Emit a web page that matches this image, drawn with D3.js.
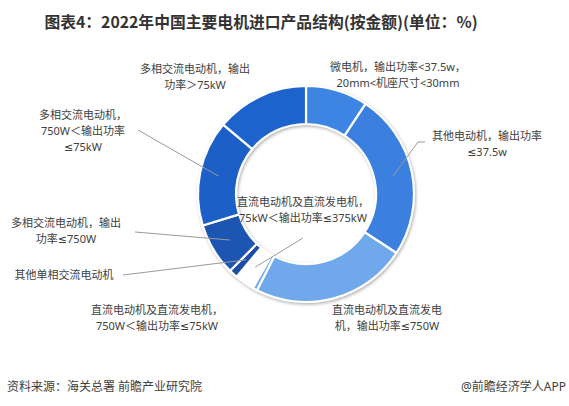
<!DOCTYPE html>
<html><head><meta charset="utf-8">
<script src="https://cdn.jsdelivr.net/npm/d3@7/dist/d3.min.js"></script>
<style>
body{margin:0;background:#fff;}
svg{display:block;font-family:"Noto Sans","DejaVu Sans","Noto Sans CJK SC",sans-serif;}
</style></head><body>
<svg id="c" width="569" height="406"></svg>
<script>
// ---- data ----
const categories = [
  "微电机，输出功率<37.5w，20mm<机座尺寸<30mm",
  "其他电动机，输出功率≤37.5w",
  "直流电动机及直流发电机，输出功率≤750W",
  "直流电动机及直流发电机，750W＜输出功率≤75kW",
  "直流电动机及直流发电机，75kW＜输出功率≤375kW",
  "其他单相交流电动机",
  "多相交流电动机，输出功率≤750W",
  "多相交流电动机，750W＜输出功率≤75kW",
  "多相交流电动机，输出功率＞75kW"
];
const values = [9.3, 24.9, 23.3, 0.7, 2.9, 1.3, 7.9, 15.8, 13.9];
const labelLines = [
  ["微电机，输出功率<37.5w，", "20mm<机座尺寸<30mm"],
  ["其他电动机，输出功率", "≤37.5w"],
  ["直流电动机及直流发电", "机，输出功率≤750W"],
  ["直流电动机及直流发电机，", "750W＜输出功率≤75kW"],
  ["直流电动机及直流发电机，", "75kW＜输出功率≤375kW"],
  ["其他单相交流电动机"],
  ["多相交流电动机，输出", "功率≤750W"],
  ["多相交流电动机，", "750W＜输出功率", "≤75kW"],
  ["多相交流电动机，输出", "功率＞75kW"]
];
const title = "图表4：2022年中国主要电机进口产品结构(按金额)(单位：%)";
const source = "资料来源：海关总署 前瞻产业研究院";
const brand = "@前瞻经济学人APP";

// ---- styles / layout ----
const colors = ["#3d84e3","#3a80de","#6fa8ec","#78aeef","#ffffff","#1a4ea8","#1c55b2","#1e5ec6","#1f63cc"];
const labelPos = [
  {x:398,y:71},{x:487,y:140},{x:387,y:314},{x:157,y:314},{x:303,y:206},
  {x:64,y:279},{x:66,y:227},{x:83,y:119},{x:195,y:73}
];
const leaderStart = [null,[[425,142],[418,142]],null,null,[[303,238]],[[123,275]],[[135,232]],[[138,130]],null];

const svg = d3.select("#c");
const cx = 306, cy = 194, R = 108, r = 70;

const defs = svg.append("defs");
const f = defs.append("filter").attr("id","sh").attr("x","-20%").attr("y","-20%").attr("width","140%").attr("height","140%");
f.append("feDropShadow").attr("dx",1).attr("dy",1.5).attr("stdDeviation",1.6)
  .attr("flood-color","#808080").attr("flood-opacity",0.6);

svg.append("text").attr("x",261).attr("y",28).attr("text-anchor","middle")
  .attr("font-family","Noto Sans CJK SC")
  .attr("font-size",15.8).attr("font-weight","bold").attr("fill","#333").text(title);

const pie = d3.pie().sort(null).value(d=>d)(values);
const arc = d3.arc().innerRadius(r).outerRadius(R);
const g = svg.append("g").attr("transform",`translate(${cx},${cy})`);
g.append("g").attr("filter","url(#sh)").selectAll("path").data(pie).join("path")
  .attr("d",arc).attr("fill",(d,i)=>colors[i]).attr("stroke","#fff").attr("stroke-width",2.2)
  .attr("stroke-linejoin","round");

// leaders
pie.forEach((d,i)=>{
  if(!leaderStart[i]) return;
  const c = arc.centroid(d);
  const pts = leaderStart[i].concat([[cx+c[0], cy+c[1]]]);
  svg.append("path").attr("d", d3.line()(pts)).attr("fill","none")
    .attr("stroke","#9a9a9a").attr("stroke-width",1);
});

// labels
labelLines.forEach((lines,i)=>{
  const t = svg.append("text").attr("text-anchor","middle").attr("font-size",11).attr("fill","#404040");
  lines.forEach((s,j)=>{
    t.append("tspan").attr("x",labelPos[i].x).attr("y",labelPos[i].y + j*16).text(s);
  });
});

svg.append("text").attr("x",7).attr("y",391).attr("font-size",12).attr("fill","#404040").text(source);
svg.append("text").attr("x",566).attr("y",391).attr("text-anchor","end").attr("font-size",12).attr("fill","#404040").text(brand);
</script>
</body></html>
